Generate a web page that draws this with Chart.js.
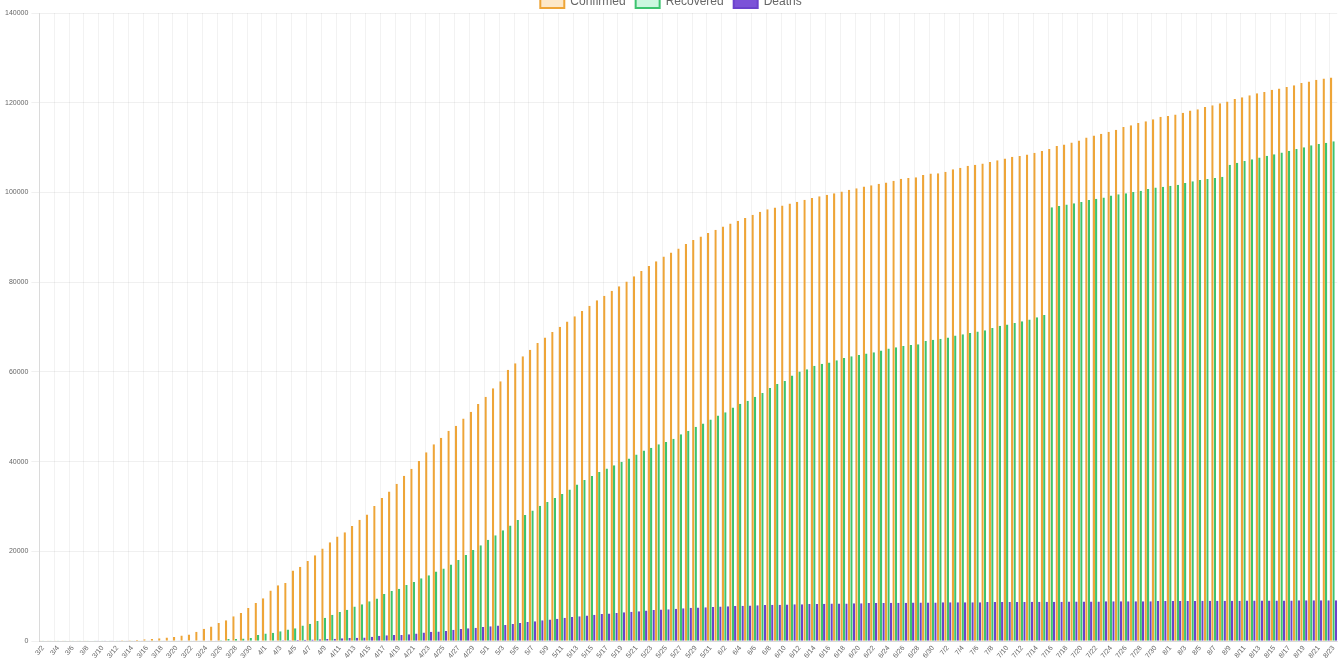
<!DOCTYPE html>
<html>
<head>
<meta charset="utf-8">
<script src="https://cdn.jsdelivr.net/npm/chart.js@4"></script>
<style>
  body { margin: 0; overflow: hidden; background: #fff; }
  #wrap { position: absolute; left: 0; top: -14px; width: 1343px; height: 677px; }
</style>
</head>
<body>
<div id="wrap"><canvas id="casesChart"></canvas></div>
<script>
// ================== DATA ==================
const dates = [
  '3/2','3/3','3/4','3/5','3/6','3/7','3/8','3/9','3/10','3/11','3/12','3/13','3/14','3/15','3/16','3/17','3/18','3/19','3/20','3/21','3/22','3/23','3/24','3/25','3/26','3/27','3/28','3/29','3/30','3/31',
  '4/1','4/2','4/3','4/4','4/5','4/6','4/7','4/8','4/9','4/10','4/11','4/12','4/13','4/14','4/15','4/16','4/17','4/18','4/19','4/20','4/21','4/22','4/23','4/24','4/25','4/26','4/27','4/28','4/29','4/30',
  '5/1','5/2','5/3','5/4','5/5','5/6','5/7','5/8','5/9','5/10','5/11','5/12','5/13','5/14','5/15','5/16','5/17','5/18','5/19','5/20','5/21','5/22','5/23','5/24','5/25','5/26','5/27','5/28','5/29','5/30','5/31',
  '6/1','6/2','6/3','6/4','6/5','6/6','6/7','6/8','6/9','6/10','6/11','6/12','6/13','6/14','6/15','6/16','6/17','6/18','6/19','6/20','6/21','6/22','6/23','6/24','6/25','6/26','6/27','6/28','6/29','6/30',
  '7/1','7/2','7/3','7/4','7/5','7/6','7/7','7/8','7/9','7/10','7/11','7/12','7/13','7/14','7/15','7/16','7/17','7/18','7/19','7/20','7/21','7/22','7/23','7/24','7/25','7/26','7/27','7/28','7/29','7/30','7/31',
  '8/1','8/2','8/3','8/4','8/5','8/6','8/7','8/8','8/9','8/10','8/11','8/12','8/13','8/14','8/15','8/16','8/17','8/18','8/19','8/20','8/21','8/22','8/23'
];

const confirmed = [
  27, 30, 33, 37, 49, 54, 64, 77, 79, 108, 117, 193, 198, 252, 415, 478, 657, 800, 943, 1277, 1469, 2088, 2790, 3251, 4042, 4682, 5576, 6280, 7398, 8527,
  9560, 11284, 12437, 12978, 15756, 16563, 17872, 19141, 20654, 22059, 23316, 24298, 25680, 27035, 28209, 30106, 31927, 33383, 35056, 36857, 38422, 40179, 42110, 43888, 45354, 46895, 48033, 49616, 51150, 52865,
  54457, 56343, 57926, 60504, 61957, 63496, 64922, 66434, 67674, 68918, 70091, 71264, 72419, 73568, 74781, 75959, 77002, 78072, 79101, 80142, 81324, 82480, 83621, 84699, 85711, 86647, 87519, 88512, 89418, 90190, 90947,
  91705, 92410, 93085, 93726, 94335, 95057, 95699, 96244, 96653, 97125, 97530, 97943, 98399, 98787, 99147, 99467, 99853, 100220, 100629, 100931, 101337, 101637, 101963, 102242, 102622, 103032, 103250, 103418, 103918, 104204,
  104271, 104629, 105193, 105536, 105935, 106167, 106434, 106805, 107185, 107589, 107981, 108155, 108486, 108829, 109264, 109669, 110338, 110676, 111124, 111597, 112240, 112672, 113081, 113556, 114000, 114597, 114994, 115470, 115875, 116312, 116884,
  117061, 117355, 117792, 118281, 118561, 119043, 119451, 119912, 120262, 120844, 121234, 121652, 122087, 122389, 122872, 123154, 123490, 123873, 124372, 124747, 125139, 125408, 125647
];

const recovered = [
  6, 6, 6, 6, 8, 8, 8, 8, 8, 8, 8, 8, 8, 8, 8, 9, 9, 9, 9, 9, 10, 10, 112, 112, 185, 466, 466, 600, 700, 1400,
  1700, 1900, 2200, 2600, 2900, 3500, 3900, 4500, 5200, 5900, 6500, 7000, 7700, 8200, 8900, 9500, 10500, 11200, 11700, 12500, 13200, 14000, 14700, 15500, 16200, 17100, 18100, 19200, 20300, 21400,
  22600, 23600, 24700, 25800, 27000, 28100, 29100, 30200, 31000, 31900, 32800, 33800, 34900, 35900, 36800, 37700, 38500, 39200, 40000, 40700, 41600, 42500, 43100, 43900, 44400, 45100, 46100, 46900, 47800, 48500, 49400,
  50300, 51000, 52100, 52900, 53600, 54500, 55300, 56400, 57300, 58000, 59200, 60100, 60600, 61400, 61800, 62100, 62600, 63100, 63500, 63800, 64100, 64400, 64800, 65200, 65500, 65800, 66000, 66200, 66900, 67200,
  67400, 67700, 68100, 68400, 68700, 69000, 69300, 69800, 70300, 70600, 70900, 71300, 71700, 72200, 72700, 96700, 97000, 97300, 97600, 97900, 98300, 98600, 98900, 99300, 99600, 99800, 100100, 100400, 100800, 101100, 101300,
  101500, 101700, 102100, 102500, 102800, 103000, 103200, 103500, 106200, 106600, 107000, 107400, 107800, 108200, 108500, 108900, 109300, 109700, 110100, 110500, 110800, 111100, 111400
];

const deaths = [
  0, 0, 0, 0, 0, 0, 0, 1, 1, 1, 1, 1, 1, 1, 4, 5, 8, 9, 12, 19, 21, 25, 26, 30, 38, 54, 61, 64, 80, 101,
  109, 139, 179, 218, 259, 339, 375, 407, 503, 557, 654, 714, 781, 822, 1005, 1195, 1310, 1354, 1399, 1563, 1725, 1908, 2075, 2141, 2285, 2533, 2707, 2859, 2996, 3155,
  3310, 3490, 3630, 3840, 4030, 4250, 4450, 4650, 4830, 5010, 5200, 5380, 5550, 5720, 5880, 6030, 6170, 6300, 6430, 6560, 6690, 6810, 6930, 7040, 7140, 7240, 7330, 7420, 7500, 7570, 7640,
  7710, 7770, 7830, 7890, 7950, 8000, 8050, 8090, 8130, 8170, 8210, 8250, 8280, 8310, 8340, 8370, 8400, 8420, 8440, 8460, 8480, 8500, 8520, 8540, 8560, 8580, 8590, 8600, 8610, 8630,
  8650, 8660, 8675, 8680, 8690, 8700, 8715, 8725, 8730, 8745, 8750, 8755, 8770, 8780, 8790, 8800, 8810, 8815, 8830, 8840, 8845, 8860, 8870, 8875, 8885, 8890, 8900, 8910, 8920, 8935, 8945,
  8950, 8955, 8965, 8975, 8985, 8990, 9000, 9010, 9015, 9025, 9035, 9045, 9055, 9060, 9070, 9075, 9085, 9095, 9100, 9110, 9120, 9125, 9135
];

const yTicksMax = 140000;
const yTicksStep = 20000;

// ================== CHART ==================
Chart.defaults.font.family = '"Liberation Sans", Arial, sans-serif';
Chart.defaults.color = '#666';

// squeeze the legend a bit, like the original
const tightLegend = {
  id: 'tightLegend',
  beforeInit(chart) {
    const origFit = chart.legend.fit;
    chart.legend.fit = function () {
      origFit.call(this);
      this.height -= 5;
    };
  }
};

new Chart(document.getElementById('casesChart'), {
  type: 'bar',
  data: {
    labels: dates,
    datasets: [
      { label: 'Confirmed', data: confirmed, backgroundColor: 'rgba(253, 226, 186, 0.8)', borderColor: '#eea538', borderWidth: 2 },
      { label: 'Recovered', data: recovered, backgroundColor: 'rgba(190, 245, 215, 0.8)', borderColor: '#3dc46f', borderWidth: 2 },
      { label: 'Deaths', data: deaths, backgroundColor: '#7c52d8', borderColor: '#6b42cc', borderWidth: 2 }
    ]
  },
  options: {
    responsive: true,
    maintainAspectRatio: false,
    animation: false,
    layout: { padding: { right: 3, left: 2 } },
    datasets: { bar: { categoryPercentage: 0.98, barPercentage: 0.98 } },
    plugins: {
      legend: {
        labels: { boxWidth: 24, boxHeight: 12, font: { size: 12 }, padding: 10 }
      },
      tooltip: { enabled: false }
    },
    scales: {
      x: {
        grid: {
          drawTicks: false,
          color: ctx => (ctx.index % 2 === 0 ? 'rgba(0,0,0,0.05)' : 'rgba(0,0,0,0)')
        },
        ticks: {
          font: { size: 7 },
          padding: 3,
          maxRotation: 50,
          minRotation: 50,
          autoSkip: false,
          callback: (v, i) => (i % 2 === 0 ? dates[i] : '')
        }
      },
      y: {
        min: 0,
        max: yTicksMax,
        grid: { color: 'rgba(0,0,0,0.06)' },
        ticks: { stepSize: yTicksStep, font: { size: 7 }, callback: v => String(v) }
      }
    }
  },
  plugins: [tightLegend]
});
</script>
</body>
</html>
